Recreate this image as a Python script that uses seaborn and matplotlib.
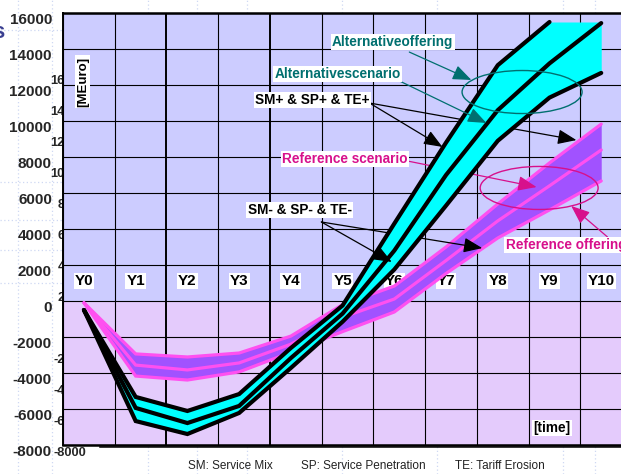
import matplotlib
matplotlib.use("Agg")
import matplotlib.pyplot as plt
import seaborn as sns
import numpy as np
from matplotlib.patches import Ellipse
from matplotlib.lines import Line2D
from matplotlib.transforms import ScaledTranslation

# ---- data -------------------------------------------------------------
years = ["Y0", "Y1", "Y2", "Y3", "Y4", "Y5", "Y6", "Y7", "Y8", "Y9", "Y10"]

# alternative offering: SM+/SP+/TE+ (high), scenario (mid), SM-/SP-/TE- (low)
alt_high = [-500, -5330, -6110, -5170, -2610, -250, 4300, 8800, 13100, 15500, 15500]
alt_mid = [-500, -5940, -6780, -5830, -3170, -700, 2800, 7000, 10600, 13200, 15440]
alt_low = [-500, -6670, -7390, -6220, -3720, -1150, 1750, 5300, 8900, 11300, 12670]

# reference offering
ref_high = [-100, -2940, -3110, -2890, -1950, -200, 830, 3000, 5390, 7670, 9830]
ref_mid = [-100, -3560, -3830, -3440, -2400, -900, 110, 2250, 4450, 6400, 8390]
ref_low = [-100, -4170, -4390, -3940, -2850, -1700, -610, 1530, 3500, 5060, 6670]

y_ticks = list(range(-8000, 16001, 2000))
footer = ["SM: Service Mix", "SP: Service Penetration", "TE: Tariff Erosion"]

# ---- style ------------------------------------------------------------
sns.set_style("white")
plt.rcParams["font.family"] = ["Liberation Sans", "DejaVu Sans"]

TEAL = "#006f6f"
MAGENTA = "#d7108c"
UPPER_BG = "#ccccff"
LOWER_BG = "#e4cbfc"
CYAN = "#00ffff"
PURPLE = "#a152ff"
PINK = "#ff50f0"

W, H, DPI = 621, 474, 100
fig = plt.figure(figsize=(W / DPI, H / DPI), dpi=DPI, facecolor="white")


def px_box(left, top, right, bottom):
    return [left / W, 1 - bottom / H, (right - left) / W, (bottom - top) / H]


label_shift = ScaledTranslation(0, -5 / DPI, fig.dpi_scale_trans)

# faint dotted slide background
for yp in [30, 182, 220, 250, 283]:
    fig.add_artist(Line2D([0, 70 / W], [1 - yp / H] * 2, color="#cfd8f3",
                          lw=0.9, ls=(0, (1, 2)), zorder=-3))
for xp in [18, 52, 148, 197, 247, 342, 437, 563, 595]:
    fig.add_artist(Line2D([xp / W] * 2, [0, 1], color="#cfd8f3",
                          lw=0.9, ls=(0, (1, 2)), zorder=-3))

# secondary (background) axis whose labels peek out from behind the chart
ghost = fig.add_axes(px_box(100, 74, 631, 447), zorder=-1)
ghost.patch.set_visible(False)
ghost.set_xlim(0, 11)
ghost.set_ylim(-8000, 16000)
ghost.set_xticks(range(1, 12))
ghost.set_xticklabels([])
ghost.set_yticks(y_ticks)
ghost.set_yticklabels([str(v) for v in y_ticks], fontsize=9.3, fontweight="bold")
for s in ["top", "right", "left"]:
    ghost.spines[s].set_visible(False)
ghost.spines["bottom"].set_linewidth(1.1)
ghost.spines["bottom"].set_color("black")
ghost.tick_params(axis="x", direction="out", length=2.5, width=0.8, colors="black")
ghost.tick_params(axis="y", length=0, pad=10)
for t in ghost.yaxis.get_major_ticks():
    t.label1.set_transform(t.label1.get_transform() + label_shift)

# main chart
ax = fig.add_axes(px_box(63, 13, 632, 445), zorder=0)
ax.set_facecolor(LOWER_BG)
ax.axhspan(0, 16000, color=UPPER_BG, zorder=0, lw=0)
ax.set_xlim(-0.405, 10.58)
ax.set_ylim(-8000, 16000)

xi = np.arange(len(years))
ax.set_xticks(-0.405 + np.arange(12))
ax.set_xticklabels([])
ax.set_yticks(y_ticks)
ax.set_yticklabels([str(v) for v in y_ticks], fontsize=11, fontweight="bold")
ax.tick_params(axis="both", length=0)
ax.tick_params(axis="y", pad=8)
for t in ax.yaxis.get_major_ticks():
    t.label1.set_transform(t.label1.get_transform() + label_shift)

ax.grid(True, color="black", lw=0.8)
ax.set_axisbelow(True)
for k, gl in enumerate(ax.xaxis.get_gridlines()):
    gl.set_zorder(0.5)
    if k in (2, 4):
        gl.set_linewidth(1.4)
for gl in ax.yaxis.get_gridlines():
    gl.set_zorder(0.5)

ax.spines["left"].set_linewidth(1.4)
ax.spines["top"].set_linewidth(1.8)
ax.spines["bottom"].set_linewidth(1.8)
ax.spines["right"].set_visible(False)
for s in ax.spines.values():
    s.set_color("black")
    s.set_zorder(6)

# year labels inside the chart
for i, lab in enumerate(years):
    ax.text(xi[i], 1100, lab, ha="center", va="center", fontsize=11,
            fontweight="bold", color="black", zorder=1,
            bbox=dict(facecolor="white", edgecolor="none", pad=0.8))

# reference band
ax.fill_between(xi, ref_low, ref_high, color=PURPLE, lw=0, zorder=2)
for ys in (ref_high, ref_mid, ref_low):
    sns.lineplot(x=xi, y=ys, ax=ax, color=PINK, lw=2.3, zorder=2.2,
                 solid_joinstyle="miter")

# alternative band
ax.fill_between(xi, alt_low, alt_high, color=CYAN, lw=0, zorder=3)
sns.lineplot(x=xi[:-1], y=alt_high[:-1], ax=ax, color="black", lw=3.0,
             zorder=3.2, solid_joinstyle="miter")
for ys in (alt_mid, alt_low):
    sns.lineplot(x=xi, y=ys, ax=ax, color="black", lw=3.0, zorder=3.2,
                 solid_joinstyle="miter")

# callout ellipses
ax.add_patch(Ellipse((8.47, 11610), 2.32, 2390, fill=False, ec=TEAL,
                     lw=1.0, zorder=4))
ax.add_patch(Ellipse((8.80, 6280), 2.28, 2390, fill=False, ec=MAGENTA,
                     lw=1.0, zorder=4))

# callout arrows: (start, tip, colour, layer)
arrows = [
    ((6.29, 13830), (7.49, 12280), TEAL, 4.5),
    ((6.06, 12280), (7.78, 9890), TEAL, 4.5),
    ((5.52, 11000), (6.93, 8560), "black", 4.5),
    ((5.52, 11000), (9.52, 8940), "black", 2.5),
    ((6.25, 7780), (8.75, 6330), MAGENTA, 2.5),
    ((10.12, 3560), (9.42, 5280), MAGENTA, 4.5),
    ((4.59, 4390), (5.95, 2170), "black", 4.5),
    ((4.59, 4390), (7.70, 2940), "black", 2.5),
]
for start, tip, c, z in arrows:
    ax.annotate("", xy=tip, xytext=start, zorder=z, annotation_clip=False,
                arrowprops=dict(arrowstyle="-|>,head_length=0.95,head_width=0.38",
                                color=c, lw=0.9, shrinkA=0, shrinkB=0,
                                mutation_scale=12))

box = dict(facecolor="white", edgecolor="none", pad=1.0)
notes = [
    ("Alternativeoffering", 5.97, 14390, TEAL, "center"),
    ("Alternativescenario", 4.90, 12610, TEAL, "center"),
    ("SM+ & SP+ & TE+", 4.42, 11170, "black", "center"),
    ("Reference scenario", 5.04, 7890, MAGENTA, "center"),
    ("SM- & SP- & TE-", 4.17, 5060, "black", "center"),
    ("Reference offering", 8.15, 3110, MAGENTA, "left"),
    ("[time]", 9.05, -7060, "black", "center"),
]
for txt, x, y, c, ha in notes:
    ax.text(x, y, txt, ha=ha, va="center", fontsize=9.8, fontweight="bold",
            color=c, zorder=5, bbox=box, clip_on=False)

ax.text(-0.02, 12170, "[MEuro]", rotation=90, ha="center", va="center",
        fontsize=9.5, fontweight="bold", color="black", zorder=5, bbox=box)

# footer legend of abbreviations
for txt, xp in zip(footer, [188, 301, 455]):
    fig.text(xp / W, 1 - 466 / H, txt, ha="left", va="center", fontsize=8.5,
             color="#222222")

# clipped slide-title glyph at the top-left edge
fig.text(-2 / W, 1 - 33 / H, "s", ha="center", va="center", fontsize=16,
         fontweight="bold", color="#3a3f91")

fig.savefig("out.png", dpi=DPI, facecolor="white")
